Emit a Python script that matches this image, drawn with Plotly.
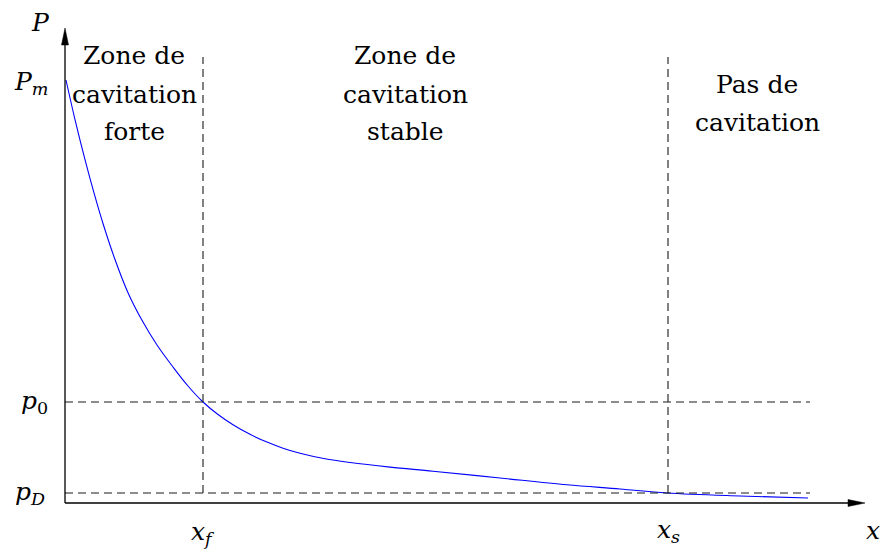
import plotly.graph_objects as go

# ---- data (arbitrary units: x = distance, P = pressure) ----
curve_x = [1, 10, 20, 29, 38, 50, 63, 77, 92, 108, 123, 138, 153, 168, 185, 202,
           218, 235, 260, 285, 325, 368, 435, 502, 555, 602, 675, 743]
curve_p = [423, 383.4, 343.4, 310.1, 279.5, 243.5, 210.3, 182.7, 158, 136, 117, 101, 88.5, 78.3,
           68.7, 60.9, 54.8, 49.7, 44.2, 40.5, 35.9, 31.8, 25, 18.2, 14, 10, 7, 5]

P_m = 420
p_0 = 101
p_D = 10
x_f = 138
x_s = 603

x_axis_end = 800
p_axis_end = 475
dash_x_end = 745
dash_p_top = 446

zone_centers = [69, 340, 692]
zone_lines = [
    ["Zone de", "cavitation", "forte"],
    ["Zone de", "cavitation", "stable"],
    ["Pas de", "cavitation"],
]
zone_line_p = [
    [448, 409, 372],
    [448, 409, 372],
    [419, 381],
]

FONT = "DejaVu Serif"
TXT = 25
MATH = 25

fig = go.Figure()

fig.add_trace(go.Scatter(
    x=curve_x, y=curve_p, mode="lines",
    line=dict(color="#0000ff", width=1.1, shape="spline", smoothing=1.0),
    hoverinfo="skip", showlegend=False,
))

dash_style = dict(color="#1a1a1a", width=1.1, dash="8px,5px")
shapes = [
    dict(type="line", x0=0, x1=dash_x_end, y0=p_0, y1=p_0, line=dash_style),
    dict(type="line", x0=0, x1=dash_x_end, y0=p_D, y1=p_D, line=dash_style),
    dict(type="line", x0=x_f, x1=x_f, y0=p_D, y1=dash_p_top, line=dash_style),
    dict(type="line", x0=x_s, x1=x_s, y0=p_D, y1=dash_p_top, line=dash_style),
    dict(type="line", x0=0, x1=x_axis_end - 5, y0=0, y1=0, line=dict(color="black", width=1.3)),
    dict(type="line", x0=0, x1=0, y0=0, y1=p_axis_end - 5, line=dict(color="black", width=1.3)),
    dict(type="path", xsizemode="pixel", ysizemode="pixel", xanchor=x_axis_end, yanchor=0,
         path="M0,0 L-17,3.5 L-17,-3.5 Z", fillcolor="black", line=dict(color="black", width=0.5)),
    dict(type="path", xsizemode="pixel", ysizemode="pixel", xanchor=0, yanchor=p_axis_end,
         path="M0,0 L-3.5,-17 L3.5,-17 Z", fillcolor="black", line=dict(color="black", width=0.5)),
]

annotations = []
for cx, lines, ps in zip(zone_centers, zone_lines, zone_line_p):
    for t, p in zip(lines, ps):
        annotations.append(dict(x=cx, y=p, text=t, showarrow=False, xanchor="center",
                                yanchor="middle", font=dict(family=FONT, size=TXT, color="black")))

math_labels = [
    (-25, 481, "<i>P</i>"),
    (-34, P_m, "<i>P</i><sub><i>m</i></sub>"),
    (-31, p_0, "<i>p</i><sub>0</sub>"),
    (-35, p_D, "<i>p</i><sub><i>D</i></sub>"),
    (x_f, -30, "<i>x</i><sub><i>f</i></sub>"),
    (x_s, -28, "<i>x</i><sub><i>s</i></sub>"),
    (808, -27, "<i>x</i>"),
]
for mx, mp, t in math_labels:
    annotations.append(dict(x=mx, y=mp, text=t, showarrow=False, xanchor="center",
                            yanchor="middle", font=dict(family=FONT, size=MATH, color="black")))

fig.update_layout(
    width=882, height=550,
    margin=dict(l=0, r=0, t=0, b=0),
    paper_bgcolor="white", plot_bgcolor="white",
    xaxis=dict(range=[-65, 817], visible=False, fixedrange=True),
    yaxis=dict(range=[-47, 503], visible=False, fixedrange=True),
    shapes=shapes,
    annotations=annotations,
    showlegend=False,
)

fig.write_html("out.html", config={"displayModeBar": False},
               post_script="document.body.style.margin='0';document.body.style.overflow='hidden';")
